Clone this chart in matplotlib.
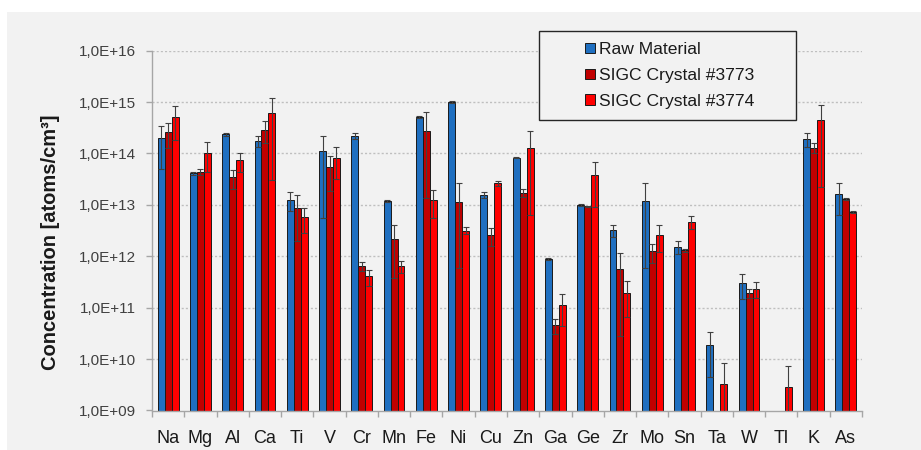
import numpy as np
import matplotlib
matplotlib.use("Agg")
import matplotlib.pyplot as plt
from matplotlib.patches import Rectangle
from matplotlib.ticker import FixedLocator, NullLocator

plt.rcParams['font.family'] = ['Liberation Sans', 'DejaVu Sans']

elements = ["Na", "Mg", "Al", "Ca", "Ti", "V", "Cr", "Mn", "Fe", "Ni", "Cu",
            "Zn", "Ga", "Ge", "Zr", "Mo", "Sn", "Ta", "W", "Tl", "K", "As"]

raw_material = [2.0e14, 4.1e13, 2.35e14, 1.75e14, 1.25e13, 1.12e14, 2.2e14, 1.19e13,
                5.1e14, 1.0e15, 1.56e13, 8.3e13, 8.9e11, 9.8e12, 3.2e12, 1.17e13,
                1.55e12, 1.9e10, 3.0e11, np.nan, 1.91e14, 1.63e13]
raw_err = [1.5e14, 0.2e13, 0.2e14, 0.4e14, 0.5e13, 1.1e14, 0.3e14, 0.3e12,
           0.3e14, 0.3e14, 0.2e13, 0.3e13, 0.3e11, 0.4e12, 0.8e12, 1.45e13,
           0.45e12, 1.45e10, 1.5e11, np.nan, 0.55e14, 1.0e13]

crystal_3773 = [2.62e14, 4.4e13, 3.45e13, 2.9e14, 8.7e12, 5.5e13, 6.4e11, 2.18e12,
                2.74e14, 1.16e13, 2.6e12, 1.7e13, 4.6e10, 9.4e12, 5.6e11, 1.24e12,
                1.31e12, np.nan, 1.94e11, np.nan, 1.3e14, 1.32e13]
err_3773 = [1.35e14, 0.5e13, 1.4e13, 1.3e14, 6.7e12, 3.6e13, 1.2e11, 1.8e12,
            3.7e14, 1.5e13, 1.0e12, 0.3e13, 1.5e10, 0.3e12, 6.0e11, 0.5e12,
            0.1e12, np.nan, 0.4e11, np.nan, 0.3e14, 0.05e13]

crystal_3774 = [5.1e14, 1.04e14, 7.4e13, 6.1e14, 5.8e12, 8.2e13, 4.1e11, 6.5e11,
                1.25e13, 3.16e12, 2.63e13, 1.3e14, 1.15e11, 3.9e13, 1.97e11, 2.6e12,
                4.73e12, 3.35e9, 2.32e11, 2.88e9, 4.4e14, 7.3e12]
err_3774 = [3.3e14, 0.6e14, 3.0e13, 6.0e14, 2.9e12, 5.0e13, 1.4e11, 1.7e11,
            0.7e13, 0.5e12, 0.3e13, 1.4e14, 0.7e11, 3.0e13, 1.3e11, 1.4e12,
            1.3e12, 4.9e9, 0.8e11, 4.4e9, 4.4e14, 0.2e12]

series_names = ["Raw Material", "SIGC Crystal #3773", "SIGC Crystal #3774"]
colors = ["#1F6FC0", "#C00000", "#FF0000"]

ytick_vals = [1e9, 1e10, 1e11, 1e12, 1e13, 1e14, 1e15, 1e16]
ytick_labels = ["1,0E+09", "1,0E+10", "1,0E+11", "1,0E+12", "1,0E+13",
                "1,0E+14", "1,0E+15", "1,0E+16"]

fig = plt.figure(figsize=(9.21, 4.5), dpi=100)
fig.patch.set_facecolor("white")
bg = Rectangle((7 / 921, 0), 1 - 7 / 921, 1 - 12 / 450,
               transform=fig.transFigure, facecolor="#F2F2F2",
               edgecolor="none", zorder=-10)
fig.patches.append(bg)

ax = fig.add_axes([152 / 921, 1 - 410.5 / 450, (862 - 152) / 921, (410.5 - 50.7) / 450])
ax.set_zorder(5)
ax.set_facecolor("none")
ax.set_yscale("log")

x = np.arange(len(elements))
w = 0.215
all_vals = [raw_material, crystal_3773, crystal_3774]
all_errs = [raw_err, err_3773, err_3774]
handles = []
for i, (vals, errs, name, c) in enumerate(zip(all_vals, all_errs, series_names, colors)):
    vals = np.array(vals, dtype=float)
    errs = np.array(errs, dtype=float)
    pos = x + (i - 1) * w
    h = ax.bar(pos, np.nan_to_num(vals, nan=0.0), width=w, color=c, edgecolor="#1a1a1a",
               linewidth=0.7, label=name, zorder=2)
    handles.append(h)
    lower = np.minimum(errs, vals * 0.95)
    m = ~np.isnan(vals)
    ax.errorbar(pos[m], vals[m], yerr=[lower[m], errs[m]], fmt="none",
                ecolor="#404040", elinewidth=0.8, capsize=2.2, capthick=0.8, zorder=3)

ax.set_xlim(-0.5, len(elements) - 0.5)
ax.set_ylim(1e9, 1e16)
ax.set_yticks(ytick_vals)
ax.yaxis.set_minor_locator(NullLocator())
ax.set_yticklabels(ytick_labels, fontsize=11, color="#404040")

ax.set_xticks(x)
ax.set_xticklabels(elements, fontsize=13, color="#1a1a1a")
ax.xaxis.set_minor_locator(FixedLocator(np.arange(-0.5, len(elements), 1.0)))
ax.tick_params(axis="x", which="major", length=0, pad=14)
ax.tick_params(axis="x", which="minor", length=4, color="#A6A6A6", width=1)
ax.tick_params(axis="y", which="major", length=4.5, color="#A6A6A6", width=1, pad=7)

for v in ytick_vals[1:]:
    ax.axhline(v, color="#BFBFBF", linestyle=(0, (1.5, 1.5)), linewidth=1.0, zorder=1)

for s in ["top", "right"]:
    ax.spines[s].set_visible(False)
for s in ["left", "bottom"]:
    ax.spines[s].set_color("#A6A6A6")
    ax.spines[s].set_linewidth(1.0)

ax.set_ylabel("Concentration [atoms/cm³]", fontsize=14.5, fontweight="bold",
              color="#1a1a1a")
ax.yaxis.set_label_coords((60 - 152) / 710, 1 - (242 - 50.7) / 359.8)

# legend box and entries
legrect = Rectangle((539 / 921, 1 - 120 / 450), (796 - 539) / 921, (120 - 31) / 450,
                    transform=fig.transFigure, facecolor="#F2F2F2",
                    edgecolor="#262626", linewidth=1.0, zorder=20)
fig.patches.append(legrect)
leg = fig.legend(handles=handles, labels=series_names, loc="center",
                 bbox_to_anchor=(670 / 921, 1 - 75.5 / 450),
                 bbox_transform=fig.transFigure, fontsize=12.6, frameon=False,
                 handlelength=0.55, handleheight=0.55, handletextpad=0.25,
                 labelspacing=0.62, borderpad=0)
leg.set_zorder(21)
for t in leg.get_texts():
    t.set_color("#1a1a1a")

fig.savefig("out.png", dpi=100, facecolor=fig.get_facecolor())
